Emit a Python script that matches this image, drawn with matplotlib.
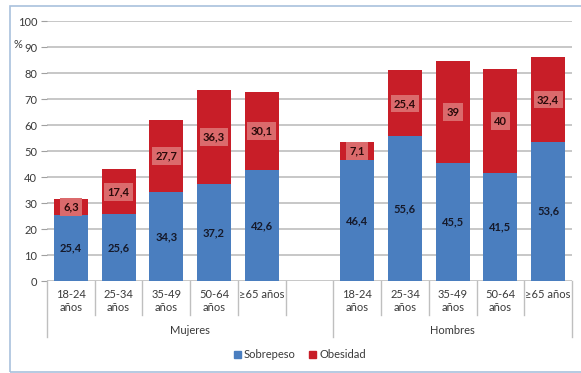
import numpy as np
import matplotlib
matplotlib.use('Agg')
import matplotlib.pyplot as plt
from matplotlib.patches import Rectangle, Patch

# Datos
edades = ['18-24\naños', '25-34\naños', '35-49\naños', '50-64\naños', '≥65 años']
grupos = ['Mujeres', 'Hombres']
sobrepeso_mujeres = [25.4, 25.6, 34.3, 37.2, 42.6]
obesidad_mujeres = [6.3, 17.4, 27.7, 36.3, 30.1]
sobrepeso_hombres = [46.4, 55.6, 45.5, 41.5, 53.6]
obesidad_hombres = [7.1, 25.4, 39, 40, 32.4]
yticks = list(range(0, 101, 10))

azul = '#4A7EBF'
rojo = '#C81E28'
caja = '#DB6A6C'
gris_txt = '#3A3A3A'

plt.rcParams['font.family'] = ['Lato', 'DejaVu Sans']

fig = plt.figure(figsize=(5.81, 3.73), dpi=100)
ax = fig.add_axes([47 / 581, 1 - 281 / 373, 525 / 581, 260 / 373])

# posiciones: 5 mujeres, un hueco, 5 hombres
x_m = np.arange(5)
x_h = np.arange(6, 11)
sobrepeso = sobrepeso_mujeres + sobrepeso_hombres
obesidad = obesidad_mujeres + obesidad_hombres
xs = np.concatenate([x_m, x_h])

ancho = 0.71
ax.bar(xs, sobrepeso, ancho, color=azul, zorder=3)
ax.bar(xs, obesidad, ancho, bottom=sobrepeso, color=rojo, zorder=3)

# etiquetas de valores
for x, s, o in zip(xs, sobrepeso, obesidad):
    ax.text(x, s / 2, f'{s:g}'.replace('.', ','), ha='center', va='center',
            fontsize=8, fontweight='bold', color='#15192a', zorder=4)
    ax.text(x, s + o / 2, f'{o:g}'.replace('.', ','), ha='center', va='center',
            fontsize=8, fontweight='bold', color='#2a0a0a', zorder=4,
            bbox=dict(boxstyle='square,pad=0.3', fc=caja, ec='none'))

ax.set_xlim(-0.5, 10.5)
ax.set_ylim(0, 100)
ax.set_yticks(yticks)
ax.tick_params(axis='y', labelsize=8, length=4, color='#A0A0A0', labelcolor=gris_txt, pad=3)
ax.set_xticks([])
ax.grid(axis='y', color='#BDBDBD', linewidth=1.2, zorder=0)
for s in ax.spines.values():
    s.set_visible(False)

# eje de categorías con dos niveles
trans = ax.get_xaxis_transform()
cortas = [0.5, 1.5, 2.5, 3.5, 4.5, 6.5, 7.5, 8.5, 9.5]
largas = [-0.5, 5.5, 10.5]
for b in cortas:
    ax.plot([b, b], [0, -34 / 260], color='#BFBFBF', lw=1, transform=trans, clip_on=False)
for b in largas:
    ax.plot([b, b], [0, -56 / 260], color='#BFBFBF', lw=1, transform=trans, clip_on=False)

for x, lab in zip(list(x_m) + list(x_h), edades + edades):
    ax.text(x, -8 / 260, lab, ha='center', va='top', fontsize=8, color=gris_txt,
            linespacing=1.25, transform=trans)
ax.text(2.5, -49 / 260, grupos[0], ha='center', va='center', fontsize=8, color=gris_txt, transform=trans)
ax.text(8, -49 / 260, grupos[1], ha='center', va='center', fontsize=8, color=gris_txt, transform=trans)

fig.text(14 / 581, 1 - 45 / 373, '%', fontsize=8, color=gris_txt, va='center')

fig.legend([Patch(color=azul), Patch(color=rojo)], ['Sobrepeso', 'Obesidad'],
           loc='center', bbox_to_anchor=(300 / 581, 1 - 355 / 373), ncol=2, frameon=False,
           fontsize=8, handlelength=0.6, handleheight=0.6, handletextpad=0.3,
           columnspacing=1.2, labelcolor=gris_txt)

# marco exterior
fig.patches.append(Rectangle((10 / 581, 1 - 372 / 373), 600 / 581, 366 / 373,
                             transform=fig.transFigure, fill=False, ec='#A9C1DD', lw=1.2))

fig.savefig('out.png', dpi=100)
